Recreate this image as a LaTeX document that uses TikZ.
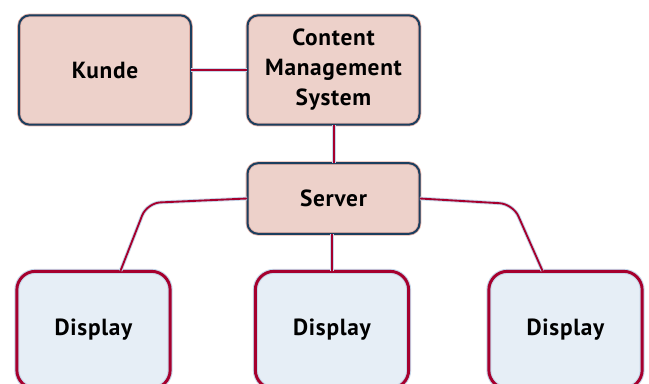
\documentclass[tikz,border=0pt]{standalone}
\usepackage{fontspec}
\setmainfont{PT Sans}[LetterSpace=3]
\usetikzlibrary{calc,positioning}

\definecolor{boxpink}{HTML}{EDD1CA}
\definecolor{pinkhalo}{HTML}{E2B0A6}
\definecolor{boxblue}{HTML}{1B3E5E}
\definecolor{dispfill}{HTML}{E6EEF6}
\definecolor{crimson}{HTML}{A6002E}
\definecolor{bluehalo}{HTML}{C6D8EA}

\begin{document}
\begin{tikzpicture}[x=0.75pt,y=-0.75pt]

  \tikzstyle{box} = [draw=pinkhalo, double=boxblue, double distance=1.5pt, line width=0.6pt, fill=boxpink, rectangle, rounded corners=8pt, minimum width=129pt, minimum height=82pt, align=center, font=\bfseries\fontsize{17.5}{22.5}\selectfont]
  \tikzstyle{display} = [draw=bluehalo, double=crimson, double distance=2.2pt, line width=0.8pt, fill=dispfill, rectangle, rounded corners=14pt, minimum width=115pt, minimum height=88pt, font=\bfseries\fontsize{17.5}{22.5}\selectfont]
  \tikzstyle{conn} = [draw=bluehalo, double=crimson, double distance=1.4pt, line width=0.7pt]

  \useasboundingbox (0,0) rectangle (649,383);

  \node[box] (kunde) at (105,70) {Kunde};
  \node[box] (cms) at (333.5,70) {Content\\Management\\System};
  \node[box, minimum height=53pt] (server) at (333.5,198.5) {Server};

  \node[display] (disp1) at (93.5,330) {Display};
  \node[display] (disp2) at (332,330) {Display};
  \node[display] (disp3) at (565.5,330) {Display};

  \coordinate (bendL) at (147,203);
  \coordinate (bendR) at (513,204);

  \draw[conn] (kunde) -- (cms);
  \draw[conn] ([xshift=0.4pt]cms.south) -- ([xshift=0.4pt]server.north);
  \draw[conn, rounded corners=10pt] (server.west) -- (bendL) -- ($(disp1.north)+(27,0)$);
  \draw[conn] (server.south -| disp2.north) -- (disp2.north);
  \draw[conn, rounded corners=10pt] (server.east) -- (bendR) -- ($(disp3.north)+(-23,0)$);

\end{tikzpicture}
\end{document}
